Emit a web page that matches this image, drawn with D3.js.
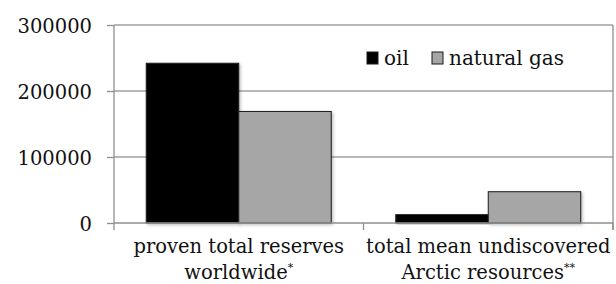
<!DOCTYPE html>
<html>
<head>
<meta charset="utf-8">
<script src="https://cdn.jsdelivr.net/npm/d3@7"></script>
<style>
  html, body { margin: 0; padding: 0; background: #fff; }
  svg { display: block; font-family: "DejaVu Serif", serif; }
</style>
</head>
<body>
<div id="chart"></div>
<script>
// categories (two text lines each, last piece is the footnote mark)
const categories = ['proven', 'arctic'];
const categoryLines = [
  ['proven total reserves', 'worldwide', '*'],
  ['total mean undiscovered', 'Arctic resources', '**']
];
const seriesNames = ['oil', 'natural gas'];
const oilValues = [242000, 12600];
const gasValues = [169000, 47400];
const yTicks = [0, 100000, 200000, 300000];

const width = 616, height = 284;
const plotLeft = 114, plotRight = 613, plotTop = 25, plotBottom = 223;

const svg = d3.select('#chart').append('svg')
  .attr('width', width).attr('height', height);

// soft shadow like the office chart
const defs = svg.append('defs');
const f = defs.append('filter').attr('id', 'shadow')
  .attr('x', '-10%').attr('y', '-10%').attr('width', '130%').attr('height', '130%');
f.append('feDropShadow').attr('dx', 1.5).attr('dy', 1.5)
  .attr('stdDeviation', 1.5).attr('flood-color', '#000').attr('flood-opacity', 0.25);

const x = d3.scaleBand().domain(categories).range([plotLeft, plotRight]).padding(0);
const xs = d3.scaleBand().domain(seriesNames).range([0, x.bandwidth()])
  .paddingInner(0).paddingOuter(0.349);
const y = d3.scaleLinear().domain([0, 300000]).range([plotBottom, plotTop]);

// grid lines
svg.append('g').selectAll('line')
  .data(yTicks.filter(d => d > 0)).enter().append('line')
  .attr('x1', plotLeft).attr('x2', plotRight)
  .attr('y1', d => y(d)).attr('y2', d => y(d))
  .attr('stroke', '#a0a0a0').attr('stroke-width', 1.3);

// y axis
const yAxis = svg.append('g').attr('transform', `translate(${plotLeft},0)`)
  .call(d3.axisLeft(y).tickValues(yTicks).tickSize(7).tickPadding(15).tickFormat(d3.format('d')));
yAxis.select('.domain').remove();
yAxis.selectAll('.tick line').attr('stroke', '#8f8f8f').attr('stroke-width', 1.3);
yAxis.selectAll('.tick text')
  .attr('font-family', '"DejaVu Serif", serif').attr('font-size', 19.5)
  .attr('fill', '#111').attr('dy', '0.36em');
yAxis.append('line').attr('x1', 0).attr('x2', 0)
  .attr('y1', plotTop).attr('y2', plotBottom + 7)
  .attr('stroke', '#8f8f8f').attr('stroke-width', 1.3);

// right border
svg.append('line').attr('x1', plotRight).attr('x2', plotRight)
  .attr('y1', plotTop).attr('y2', plotBottom + 7)
  .attr('stroke', '#8f8f8f').attr('stroke-width', 1.3);

// bars
const rows = categories.map((c, i) => ({ cat: c, values: [
  { key: 'oil', value: oilValues[i], fill: '#000' },
  { key: 'natural gas', value: gasValues[i], fill: '#a6a6a6' }
]}));

const groups = svg.append('g').selectAll('g')
  .data(rows).enter().append('g')
  .attr('transform', d => `translate(${x(d.cat)},0)`);

groups.selectAll('rect')
  .data(d => d.values).enter().append('rect')
  .attr('x', d => xs(d.key))
  .attr('width', xs.bandwidth())
  .attr('y', d => y(d.value))
  .attr('height', d => y(0) - y(d.value))
  .attr('fill', d => d.fill)
  .attr('stroke', '#1a1a1a').attr('stroke-width', 1)
  .attr('filter', 'url(#shadow)');

// x axis line with boundary ticks
svg.append('line').attr('x1', plotLeft).attr('x2', plotRight)
  .attr('y1', plotBottom).attr('y2', plotBottom)
  .attr('stroke', '#8f8f8f').attr('stroke-width', 1.3);
svg.append('g').selectAll('line')
  .data(categories).enter().append('line')
  .attr('x1', d => x(d) + x.bandwidth()).attr('x2', d => x(d) + x.bandwidth())
  .attr('y1', plotBottom).attr('y2', plotBottom + 7)
  .attr('stroke', '#8f8f8f').attr('stroke-width', 1.3);

// category labels
const labels = svg.append('g').selectAll('g')
  .data(categories).enter().append('g')
  .attr('transform', d => `translate(${x(d) + x.bandwidth() / 2},0)`);
labels.append('text')
  .attr('y', 253).attr('text-anchor', 'middle')
  .attr('font-size', 19.5).attr('fill', '#111')
  .text((d, i) => categoryLines[i][0]);
const second = labels.append('text')
  .attr('y', 279).attr('text-anchor', 'middle')
  .attr('font-size', 19.5).attr('fill', '#111');
second.append('tspan').text((d, i) => categoryLines[i][1]);
second.append('tspan').attr('font-size', 11).attr('dy', -8)
  .text((d, i) => categoryLines[i][2]);

// legend
const legendX = [367, 432];
const legendFill = ['#000', '#a6a6a6'];
const legend = svg.append('g').selectAll('g')
  .data(seriesNames).enter().append('g')
  .attr('transform', (d, i) => `translate(${legendX[i]},0)`);
legend.append('rect')
  .attr('x', 0).attr('y', 52).attr('width', 11).attr('height', 12)
  .attr('fill', (d, i) => legendFill[i])
  .attr('stroke', '#1a1a1a').attr('stroke-width', 1);
legend.append('text')
  .attr('x', 17).attr('y', 65)
  .attr('font-size', 20).attr('fill', '#111')
  .text(d => d);
</script>
</body>
</html>
